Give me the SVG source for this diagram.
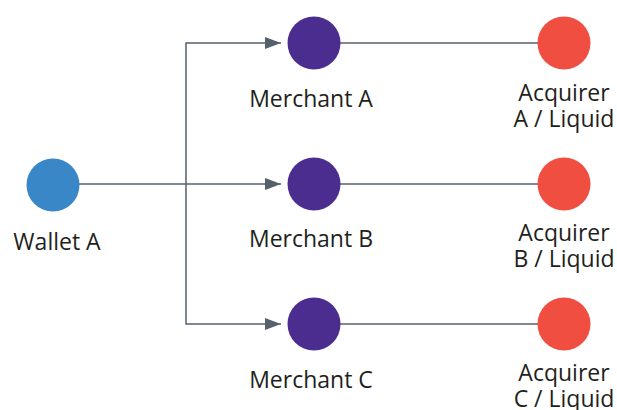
<svg xmlns="http://www.w3.org/2000/svg" width="617" height="410" viewBox="0 0 617 410">
  <defs>
    <marker id="arrow" markerWidth="16" markerHeight="12" refX="16" refY="6" orient="auto" markerUnits="userSpaceOnUse">
      <path d="M0,0 L16,6 L0,12 Z" fill="#56616c"/>
    </marker>
    <style>
      .edge { stroke: #56616c; stroke-width: 1.5; fill: none; }
      .label { font-family: "Open Sans", "Liberation Sans", sans-serif; font-size: 23px; fill: #231f20; text-anchor: middle; }
      .wallet { fill: #3a87c8; }
      .merchant { fill: #4a2d8f; }
      .acquirer { fill: #f04e40; }
    </style>
  </defs>
  <rect width="617" height="410" fill="#ffffff"/>

  <g id="connectors">
    <path class="edge" d="M79,184 H281" marker-end="url(#arrow)"/>
    <path class="edge" d="M186,184 V43 H281" marker-end="url(#arrow)"/>
    <path class="edge" d="M186,184 V324 H281" marker-end="url(#arrow)"/>
    <path class="edge" d="M340,43 H538"/>
    <path class="edge" d="M340,184 H538"/>
    <path class="edge" d="M340,324 H538"/>
  </g>

  <g id="wallet-a">
    <circle class="wallet" cx="53" cy="185" r="26.5"/>
    <text class="label" x="57" y="250">Wallet A</text>
  </g>

  <g id="merchant-a">
    <circle class="merchant" cx="314" cy="43" r="26.5"/>
    <text class="label" x="311" y="107">Merchant A</text>
  </g>
  <g id="merchant-b">
    <circle class="merchant" cx="314" cy="184" r="26.5"/>
    <text class="label" x="311" y="247">Merchant B</text>
  </g>
  <g id="merchant-c">
    <circle class="merchant" cx="314" cy="324" r="26.5"/>
    <text class="label" x="311" y="388">Merchant C</text>
  </g>

  <g id="acquirer-a">
    <circle class="acquirer" cx="564" cy="43" r="26.5"/>
    <text class="label" x="564" y="101">Acquirer</text>
    <text class="label" x="564" y="127">A / Liquid</text>
  </g>
  <g id="acquirer-b">
    <circle class="acquirer" cx="564" cy="184" r="26.5"/>
    <text class="label" x="564" y="241">Acquirer</text>
    <text class="label" x="564" y="267">B / Liquid</text>
  </g>
  <g id="acquirer-c">
    <circle class="acquirer" cx="564" cy="324" r="26.5"/>
    <text class="label" x="564" y="381">Acquirer</text>
    <text class="label" x="564" y="407">C / Liquid</text>
  </g>
</svg>
